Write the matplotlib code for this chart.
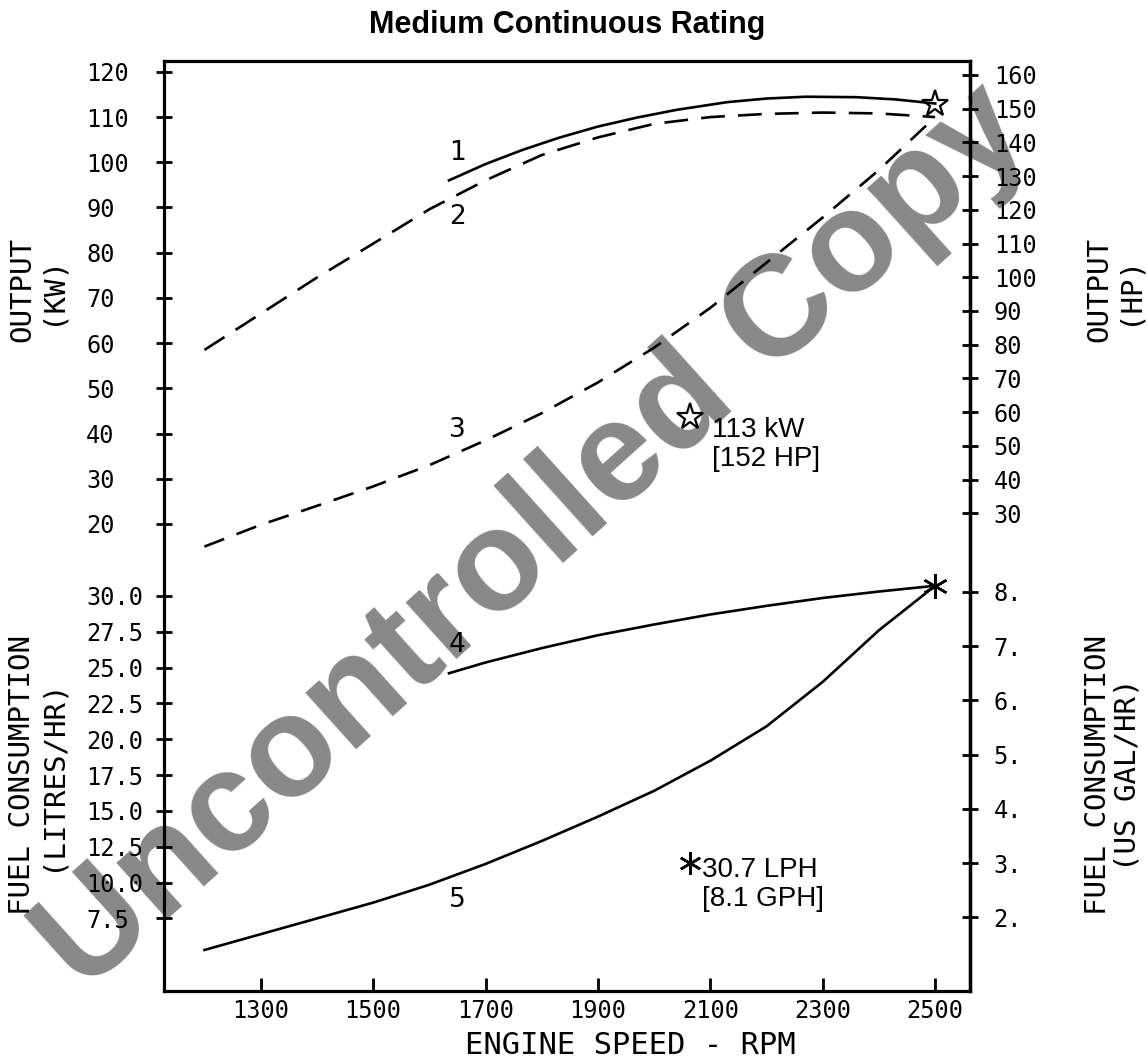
import matplotlib
matplotlib.use("Agg")
import matplotlib.pyplot as plt

# engine speed ticks and axis scales
rpm_ticks = [1300, 1500, 1700, 1900, 2100, 2300, 2500]
kw_ticks = [20, 30, 40, 50, 60, 70, 80, 90, 100, 110, 120]
hp_ticks = [30, 40, 50, 60, 70, 80, 90, 100, 110, 120, 130, 140, 150, 160]
lph_ticks = [7.5, 10.0, 12.5, 15.0, 17.5, 20.0, 22.5, 25.0, 27.5, 30.0]
gph_ticks = [2, 3, 4, 5, 6, 7, 8]

KW_TO_HP = 1.341
L_PER_GAL = 3.785

# curve 1 - max output (kW)
rpm_1 = [1635, 1700, 1765, 1830, 1900, 1970, 2040, 2130, 2200, 2270, 2360, 2430, 2500]
kw_1 = [96.0, 99.6, 102.7, 105.4, 107.9, 109.9, 111.6, 113.3, 114.1, 114.5, 114.4, 113.9, 113.0]

# curve 2 - dashed output (kW)
rpm_2 = [1200, 1300, 1400, 1500, 1600, 1700, 1800, 1900, 2000, 2100, 2200, 2300, 2400, 2500]
kw_2 = [58.5, 66.5, 74.5, 82.0, 89.6, 96.0, 101.6, 105.5, 108.5, 110.0, 110.7, 111.0, 110.8, 110.0]

# curve 3 - propeller curve (kW)
rpm_3 = [1200, 1300, 1400, 1500, 1600, 1700, 1800, 1900, 2000, 2100, 2200, 2300, 2400, 2500]
kw_3 = [15.0, 19.8, 24.0, 28.3, 33.0, 38.5, 44.5, 51.3, 59.0, 67.8, 77.8, 87.8, 98.3, 110.0]

# curve 4 - fuel at max output (L/hr)
rpm_4 = [1635, 1700, 1800, 1900, 2000, 2100, 2200, 2300, 2400, 2500]
lph_4 = [24.6, 25.35, 26.35, 27.25, 28.0, 28.7, 29.3, 29.85, 30.3, 30.7]

# curve 5 - fuel on propeller curve (L/hr)
rpm_5 = [1200, 1300, 1400, 1500, 1600, 1700, 1800, 1900, 2000, 2100, 2200, 2300, 2400, 2500]
lph_5 = [5.3, 6.4, 7.5, 8.6, 9.85, 11.3, 12.9, 14.6, 16.4, 18.5, 20.9, 24.0, 27.6, 30.7]

rated_rpm = 2500
rated_kw = 113
rated_lph = 30.7

mono = 'DejaVu Sans Mono'
sans = 'Liberation Sans'

fig = plt.figure(figsize=(11.47, 10.61), dpi=100)

# watermark sits behind everything
fig.text(0.466, 0.492, 'Uncontrolled Copy', rotation=42, fontsize=103,
         fontweight='bold', color='#888888', ha='center', va='center',
         family=sans, zorder=-1)

ax = fig.add_axes([0.143, 0.066, 0.7027, 0.8765])
ax.set_facecolor('none')
ax.set_xlim(1128, 2562)
ax.set_ylim(-83.3, 122.4)

axf = ax.twinx()
axf.set_ylim(2.44, 67.3)
for s in axf.spines.values():
    s.set_visible(False)
for s in ax.spines.values():
    s.set_linewidth(2.3)

# output curves
ax.plot(rpm_1, kw_1, color='black', lw=1.9)
ax.plot(rpm_2, kw_2, color='black', lw=1.9, dashes=(9, 5))
ax.plot(rpm_3, kw_3, color='black', lw=1.9, dashes=(8, 5))
ax.plot([rated_rpm], [rated_kw], marker='*', ms=20, mfc='none', mec='black', mew=1.6)

# fuel curves
axf.plot(rpm_4, lph_4, color='black', lw=1.9)
axf.plot(rpm_5, lph_5, color='black', lw=1.9)
axf.plot([rated_rpm], [rated_lph], marker=(6, 2, 0), ms=18, color='black', mew=1.8)

# curve numbers
for txt, y, a in [('1', 102.1, ax), ('2', 87.9, ax), ('3', 40.8, ax),
                  ('4', 26.6, axf), ('5', 8.8, axf)]:
    a.text(1650, y, txt, fontsize=19, ha='center', va='center', family='DejaVu Sans')

# rated point notes
ax.plot([2064], [43.7], marker='*', ms=20, mfc='none', mec='black', mew=1.6)
ax.text(2103, 37.5, '113 kW\n[152 HP]', fontsize=20, family=sans,
        ha='left', va='center', linespacing=1.15)
axf.plot([2064], [11.37], marker=(6, 2, 0), ms=16, color='black', mew=1.8)
axf.text(2085, 9.9, '30.7 LPH\n[8.1 GPH]', fontsize=20, family=sans,
         ha='left', va='center', linespacing=1.15)

# x axis
ax.set_xticks(rpm_ticks)
ax.tick_params(axis='x', direction='in', length=9.5, width=2, labelsize=17, pad=6)
for lab in ax.get_xticklabels():
    lab.set_family(mono)
ax.set_xlabel('ENGINE SPEED - RPM', fontsize=22, family=mono)
ax.xaxis.set_label_coords(0.578, -0.043)

# left scales, labels left aligned
ax.set_yticks(kw_ticks)
ax.set_yticklabels([str(v) for v in kw_ticks])
axf.set_yticks(lph_ticks)
axf.set_yticklabels(['%.1f' % v for v in lph_ticks])
axf.yaxis.set_ticks_position('left')
for a in (ax, axf):
    a.tick_params(axis='y', direction='inout', length=11, width=2, labelsize=17,
                  pad=50.5, left=True, right=False)
    for lab in a.get_yticklabels():
        lab.set_family(mono)
        lab.set_horizontalalignment('left')

# right scales
hp_ax = ax.secondary_yaxis('right', functions=(lambda k: k * KW_TO_HP, lambda h: h / KW_TO_HP))
hp_ax.set_yticks(hp_ticks)
hp_ax.set_yticklabels([str(v) for v in hp_ticks])
gal_ax = axf.secondary_yaxis('right', functions=(lambda l: l / L_PER_GAL, lambda g: g * L_PER_GAL))
gal_ax.set_yticks(gph_ticks)
gal_ax.set_yticklabels(['%d.' % v for v in gph_ticks])
for a in (hp_ax, gal_ax):
    a.tick_params(axis='y', direction='inout', length=11, width=2, labelsize=17, pad=11.5)
    a.spines['right'].set_linewidth(2.3)
    for lab in a.get_yticklabels():
        lab.set_family(mono)

# axis titles
lab_kw = dict(rotation=90, fontsize=21, family=mono, ha='center', va='center',
              multialignment='center', linespacing=1.05)
fig.text(37 / 1147, 1 - 290 / 1061, 'OUTPUT\n(KW)', **lab_kw)
fig.text(37 / 1147, 1 - 775 / 1061, 'FUEL CONSUMPTION\n(LITRES/HR)', **lab_kw)
fig.text(1114 / 1147, 1 - 290 / 1061, 'OUTPUT\n(HP)', **lab_kw)
fig.text(1113 / 1147, 1 - 775 / 1061, 'FUEL CONSUMPTION\n(US GAL/HR)', **lab_kw)

fig.text(567 / 1147, 1 - 25 / 1061, 'Medium Continuous Rating', ha='center', va='center',
         fontsize=22, fontweight='bold', family=sans)

fig.savefig('out.png', dpi=100)
